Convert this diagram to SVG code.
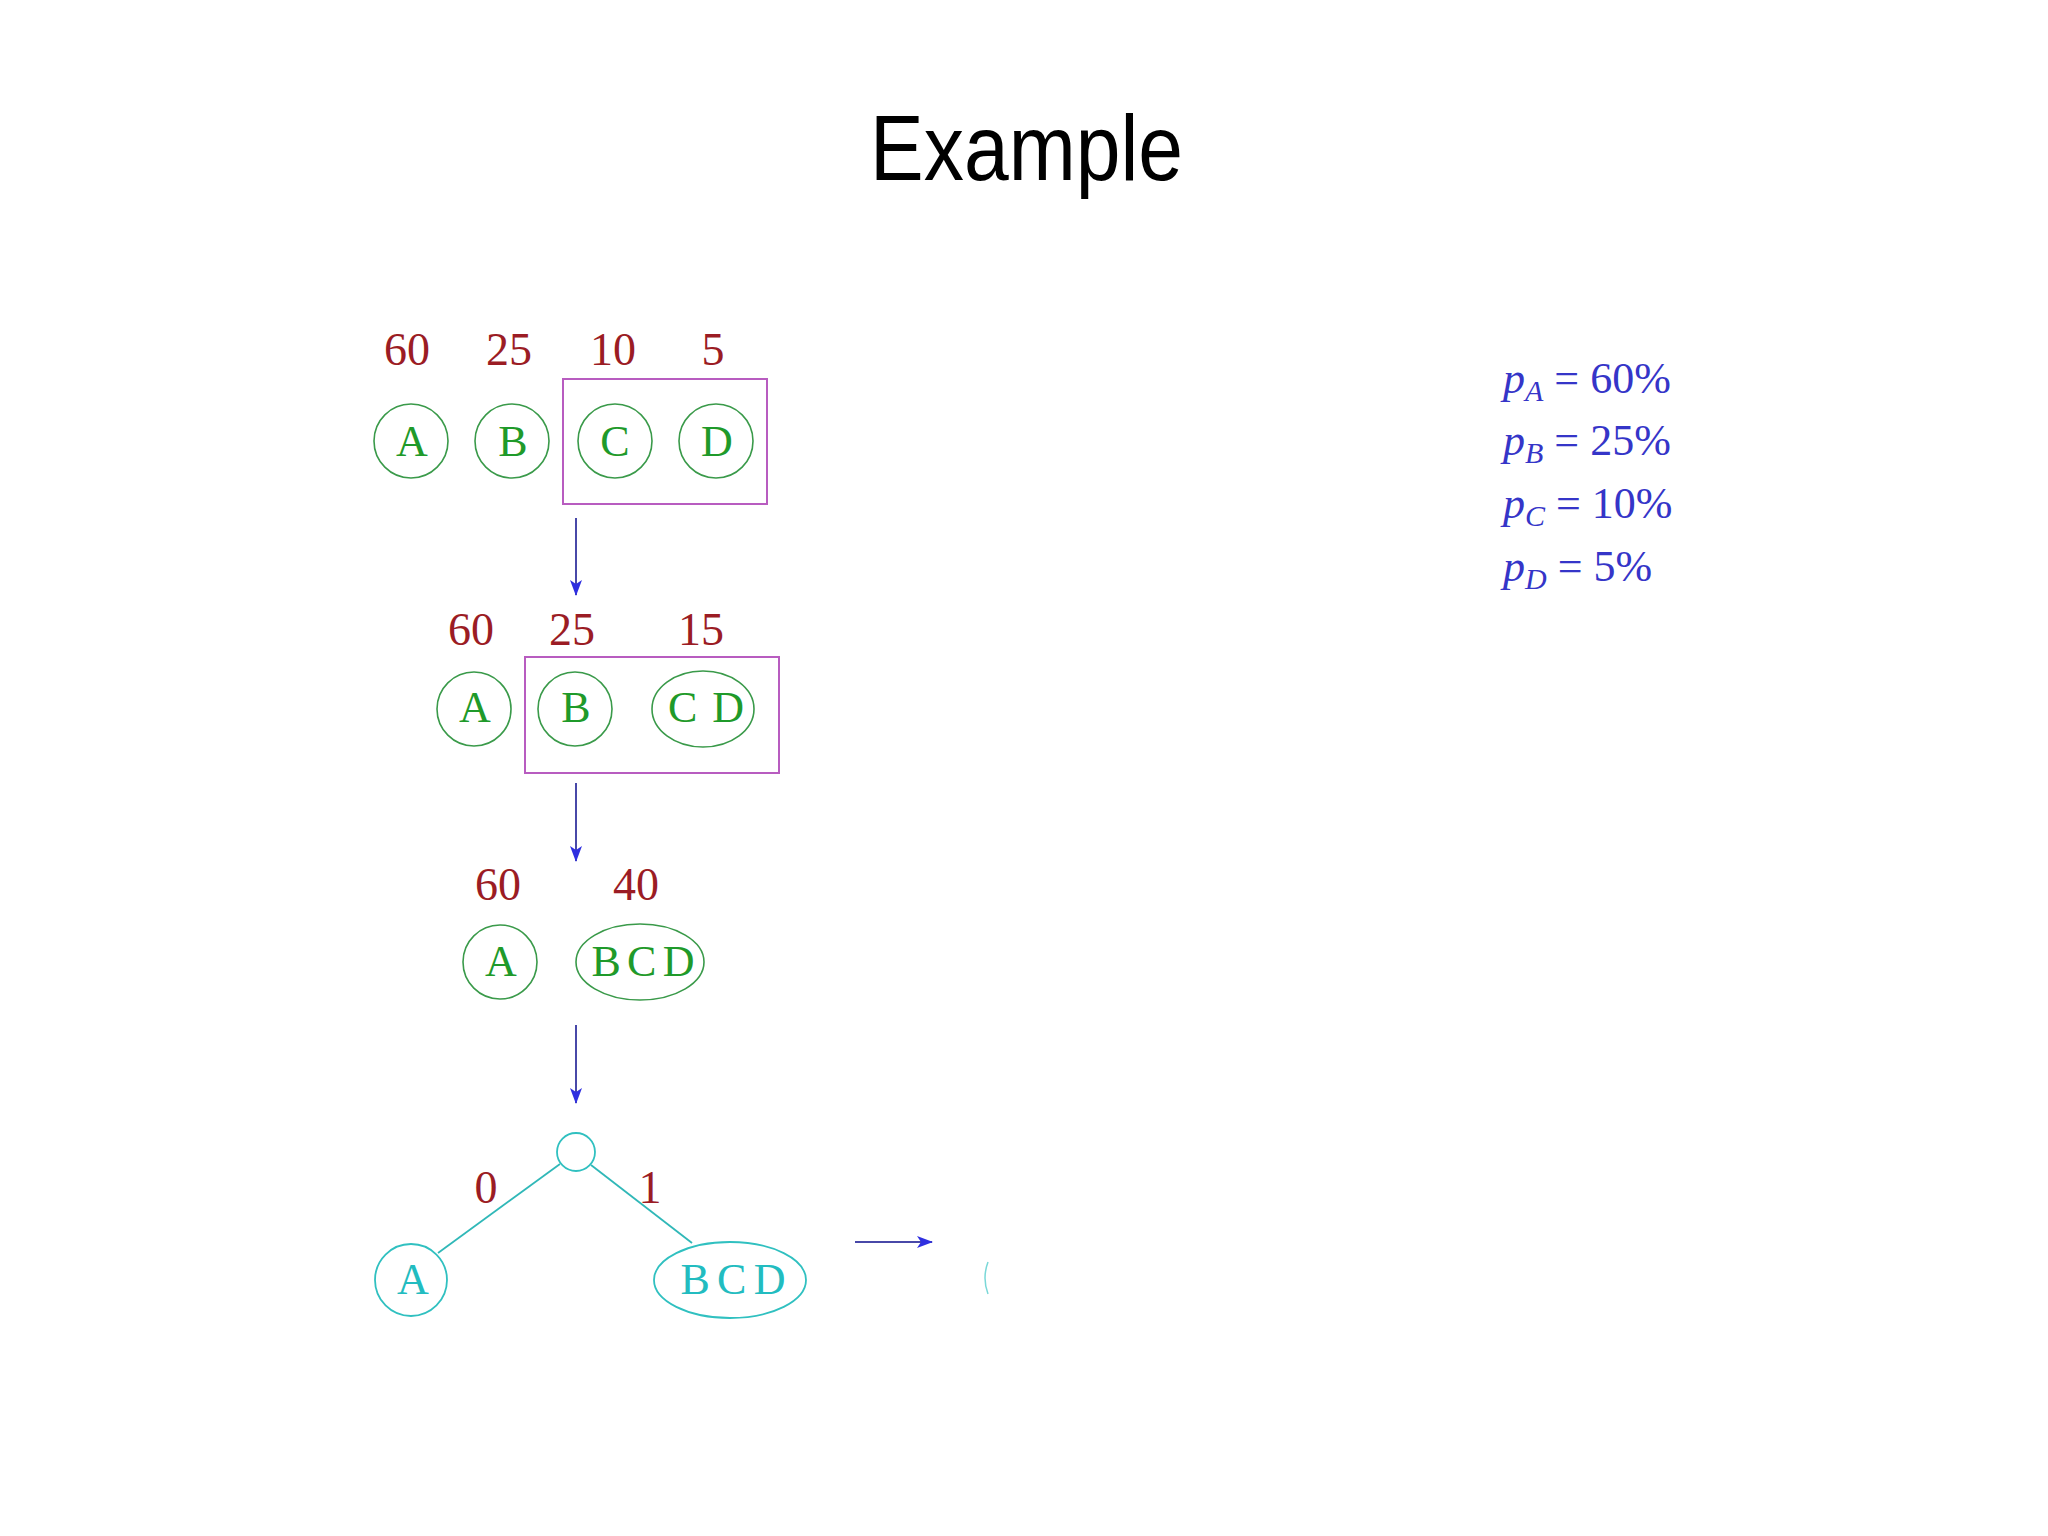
<svg xmlns="http://www.w3.org/2000/svg" width="2048" height="1536" viewBox="0 0 2048 1536">
<defs>
<style>
.num{font-family:"Liberation Serif","Times New Roman",serif;font-size:46px;fill:#9b1c24;text-anchor:middle}
.lbl{font-family:"Liberation Serif","Times New Roman",serif;font-size:44px;fill:#1f9a2a;text-anchor:middle}
.lblc{font-family:"Liberation Serif","Times New Roman",serif;font-size:44px;fill:#22bcc0;text-anchor:middle}
.gn{fill:none;stroke:#3a9a4a;stroke-width:1.6}
.cy{fill:none;stroke:#30c0c0;stroke-width:1.8}
.box{fill:none;stroke:#b85cc0;stroke-width:2}
.arr{stroke:#4848a8;stroke-width:2;fill:none;marker-end:url(#ah)}
.prob{font-family:"Liberation Serif","Times New Roman",serif;font-size:44px;fill:#3535c8}
</style>
<marker id="ah" viewBox="0 0 16 12" refX="15" refY="6" markerWidth="16" markerHeight="12" markerUnits="userSpaceOnUse" orient="auto">
<path d="M0,0 L16,6 L0,12 L4,6 Z" fill="#2f2fe0"/>
</marker>
</defs>
<rect width="2048" height="1536" fill="#ffffff"/>
<text x="870" y="180" font-family="'Liberation Sans','DejaVu Sans',sans-serif" font-size="92" fill="#000" textLength="313" lengthAdjust="spacingAndGlyphs">Example</text>

<g id="row1">
<text class="num" x="407" y="365">60</text>
<text class="num" x="509" y="365">25</text>
<text class="num" x="613" y="365">10</text>
<text class="num" x="713" y="365">5</text>
<g id="r1A"><circle class="gn" cx="411" cy="441" r="37"/><text class="lbl" x="412" y="456">A</text></g>
<g id="r1B"><circle class="gn" cx="512" cy="441" r="37"/><text class="lbl" x="513" y="456">B</text></g>
<g id="r1box"><rect class="box" x="563" y="379" width="204" height="125"/></g>
<g id="r1C"><circle class="gn" cx="615" cy="441" r="37"/><text class="lbl" x="615" y="456">C</text></g>
<g id="r1D"><circle class="gn" cx="716" cy="441" r="37"/><text class="lbl" x="717" y="456">D</text></g>
</g>

<g id="row2">
<text class="num" x="471" y="645">60</text>
<text class="num" x="572" y="645">25</text>
<text class="num" x="701" y="645">15</text>
<g id="r2A"><circle class="gn" cx="474" cy="709" r="37"/><text class="lbl" x="475" y="722">A</text></g>
<g id="r2box"><rect class="box" x="525" y="657" width="254" height="116"/></g>
<g id="r2B"><circle class="gn" cx="575" cy="709" r="37"/><text class="lbl" x="576" y="722">B</text></g>
<g id="r2CD"><ellipse class="gn" cx="703" cy="709" rx="51" ry="38"/><text class="lbl" x="706" y="722" textLength="76" lengthAdjust="spacing">CD</text></g>
</g>

<g id="row3">
<text class="num" x="498" y="900">60</text>
<text class="num" x="636" y="900">40</text>
<g id="r3A"><circle class="gn" cx="500" cy="962" r="37"/><text class="lbl" x="501" y="976">A</text></g>
<g id="r3BCD"><ellipse class="gn" cx="640" cy="962" rx="64" ry="38"/><text class="lbl" x="643" y="976" textLength="103" lengthAdjust="spacing">BCD</text></g>
</g>

<g id="tree">
<g id="root"><circle class="cy" cx="576" cy="1152" r="19"/></g>
<g id="tA"><circle class="cy" cx="411" cy="1280" r="36"/><text class="lblc" x="413" y="1294">A</text></g>
<g id="tBCD"><ellipse class="cy" cx="730" cy="1280" rx="76" ry="38"/><text class="lblc" x="733" y="1294" textLength="105" lengthAdjust="spacing">BCD</text></g>
<text class="num" x="486" y="1203">0</text>
<text class="num" x="650" y="1203">1</text>
</g>

<g id="connectors">
<line class="arr" x1="576" y1="518" x2="576" y2="595"/>
<line class="arr" x1="576" y1="783" x2="576" y2="861"/>
<line class="arr" x1="576" y1="1025" x2="576" y2="1103"/>
<line x1="560" y1="1164" x2="438" y2="1253" stroke="#30b8b8" stroke-width="1.8"/>
<line x1="591" y1="1165" x2="692" y2="1243" stroke="#30b8b8" stroke-width="1.8"/>
<line class="arr" x1="855" y1="1242" x2="932" y2="1242"/>
</g>

<path d="M988,1262 Q982,1278 988,1294" fill="none" stroke="#7ad8d8" stroke-width="1.5"/>

<g id="probs">
<text class="prob" x="1503" y="393"><tspan font-style="italic">p</tspan><tspan font-style="italic" font-size="30" dy="8">A</tspan><tspan dy="-8"> = 60%</tspan></text>
<text class="prob" x="1503" y="455"><tspan font-style="italic">p</tspan><tspan font-style="italic" font-size="30" dy="8">B</tspan><tspan dy="-8"> = 25%</tspan></text>
<text class="prob" x="1503" y="518"><tspan font-style="italic">p</tspan><tspan font-style="italic" font-size="30" dy="8">C</tspan><tspan dy="-8"> = 10%</tspan></text>
<text class="prob" x="1503" y="581"><tspan font-style="italic">p</tspan><tspan font-style="italic" font-size="30" dy="8">D</tspan><tspan dy="-8"> = 5%</tspan></text>
</g>
</svg>
